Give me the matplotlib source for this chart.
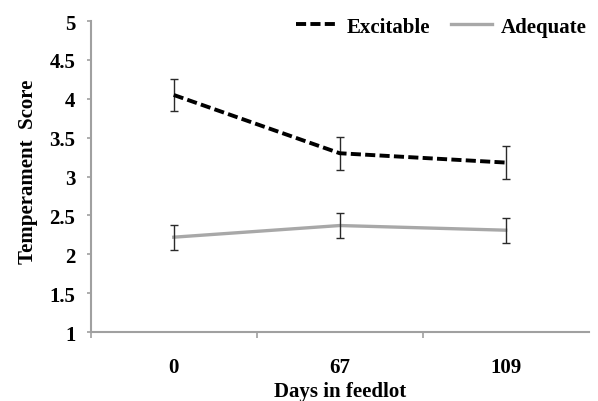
import matplotlib
matplotlib.use("Agg")
import matplotlib.pyplot as plt
import numpy as np

days = ["0", "67", "109"]
excitable = [4.05, 3.30, 3.18]
excitable_err = [0.21, 0.21, 0.21]
adequate = [2.22, 2.37, 2.31]
adequate_err = [0.16, 0.16, 0.16]
yticks = [1, 1.5, 2, 2.5, 3, 3.5, 4, 4.5, 5]
ytick_labels = ["1", "1.5", "2", "2.5", "3", "3.5", "4", "4.5", "5"]

plt.rcParams['font.family'] = ['Liberation Serif', 'DejaVu Serif']
plt.rcParams['font.weight'] = 'bold'

fig = plt.figure(figsize=(5.98, 4.02), dpi=100)
ax = fig.add_axes([0.1517, 0.1716, 0.8327, 0.7734])

x = np.arange(len(days))
axis_col = '#A0A0A0'

ax.errorbar(x, excitable, yerr=excitable_err, fmt='none', ecolor='#2a2a2a',
            elinewidth=1.0, capsize=3, capthick=1.0, zorder=3)
ax.errorbar(x, adequate, yerr=adequate_err, fmt='none', ecolor='#2a2a2a',
            elinewidth=1.0, capsize=3, capthick=1.0, zorder=3)
ax.plot(x, excitable, color='black', lw=2.8, linestyle=(0, (2.6, 1.1)),
        label='Excitable', zorder=4)
ax.plot(x, adequate, color='#A8A8A8', lw=2.4, label='Adequate', zorder=2)

ax.set_xlim(-0.5, 2.5)
ax.set_ylim(1, 5)
ax.set_yticks(yticks)
ax.set_yticklabels(ytick_labels, fontsize=15, fontweight='bold')
ax.set_xticks(x)
ax.set_xticklabels(days, fontsize=15, fontweight='bold')
ax.set_xticks([-0.5, 0.5, 1.5], minor=True)
ax.tick_params(axis='x', which='major', length=0, pad=18)
ax.tick_params(axis='x', which='minor', length=4, color=axis_col, width=1.2)
ax.tick_params(axis='y', length=3, color=axis_col, width=1.2, pad=8)

for s in ['top', 'right']:
    ax.spines[s].set_visible(False)
for s in ['left', 'bottom']:
    ax.spines[s].set_color(axis_col)
    ax.spines[s].set_linewidth(1.5)

ax.set_xlabel('Days in feedlot', fontsize=15, fontweight='bold', labelpad=3)
ax.set_ylabel('Temperament  Score', fontsize=15, fontweight='bold')
ax.yaxis.set_label_coords(-0.105, 0.52)

leg = ax.legend(loc='upper right', bbox_to_anchor=(1.022, 1.055), ncol=2, frameon=False,
                fontsize=15, handlelength=2.0, handletextpad=0.43, columnspacing=1.0,
                borderaxespad=0.2)
for t in leg.get_texts():
    t.set_fontweight('bold')

fig.savefig('out.png', dpi=100)
